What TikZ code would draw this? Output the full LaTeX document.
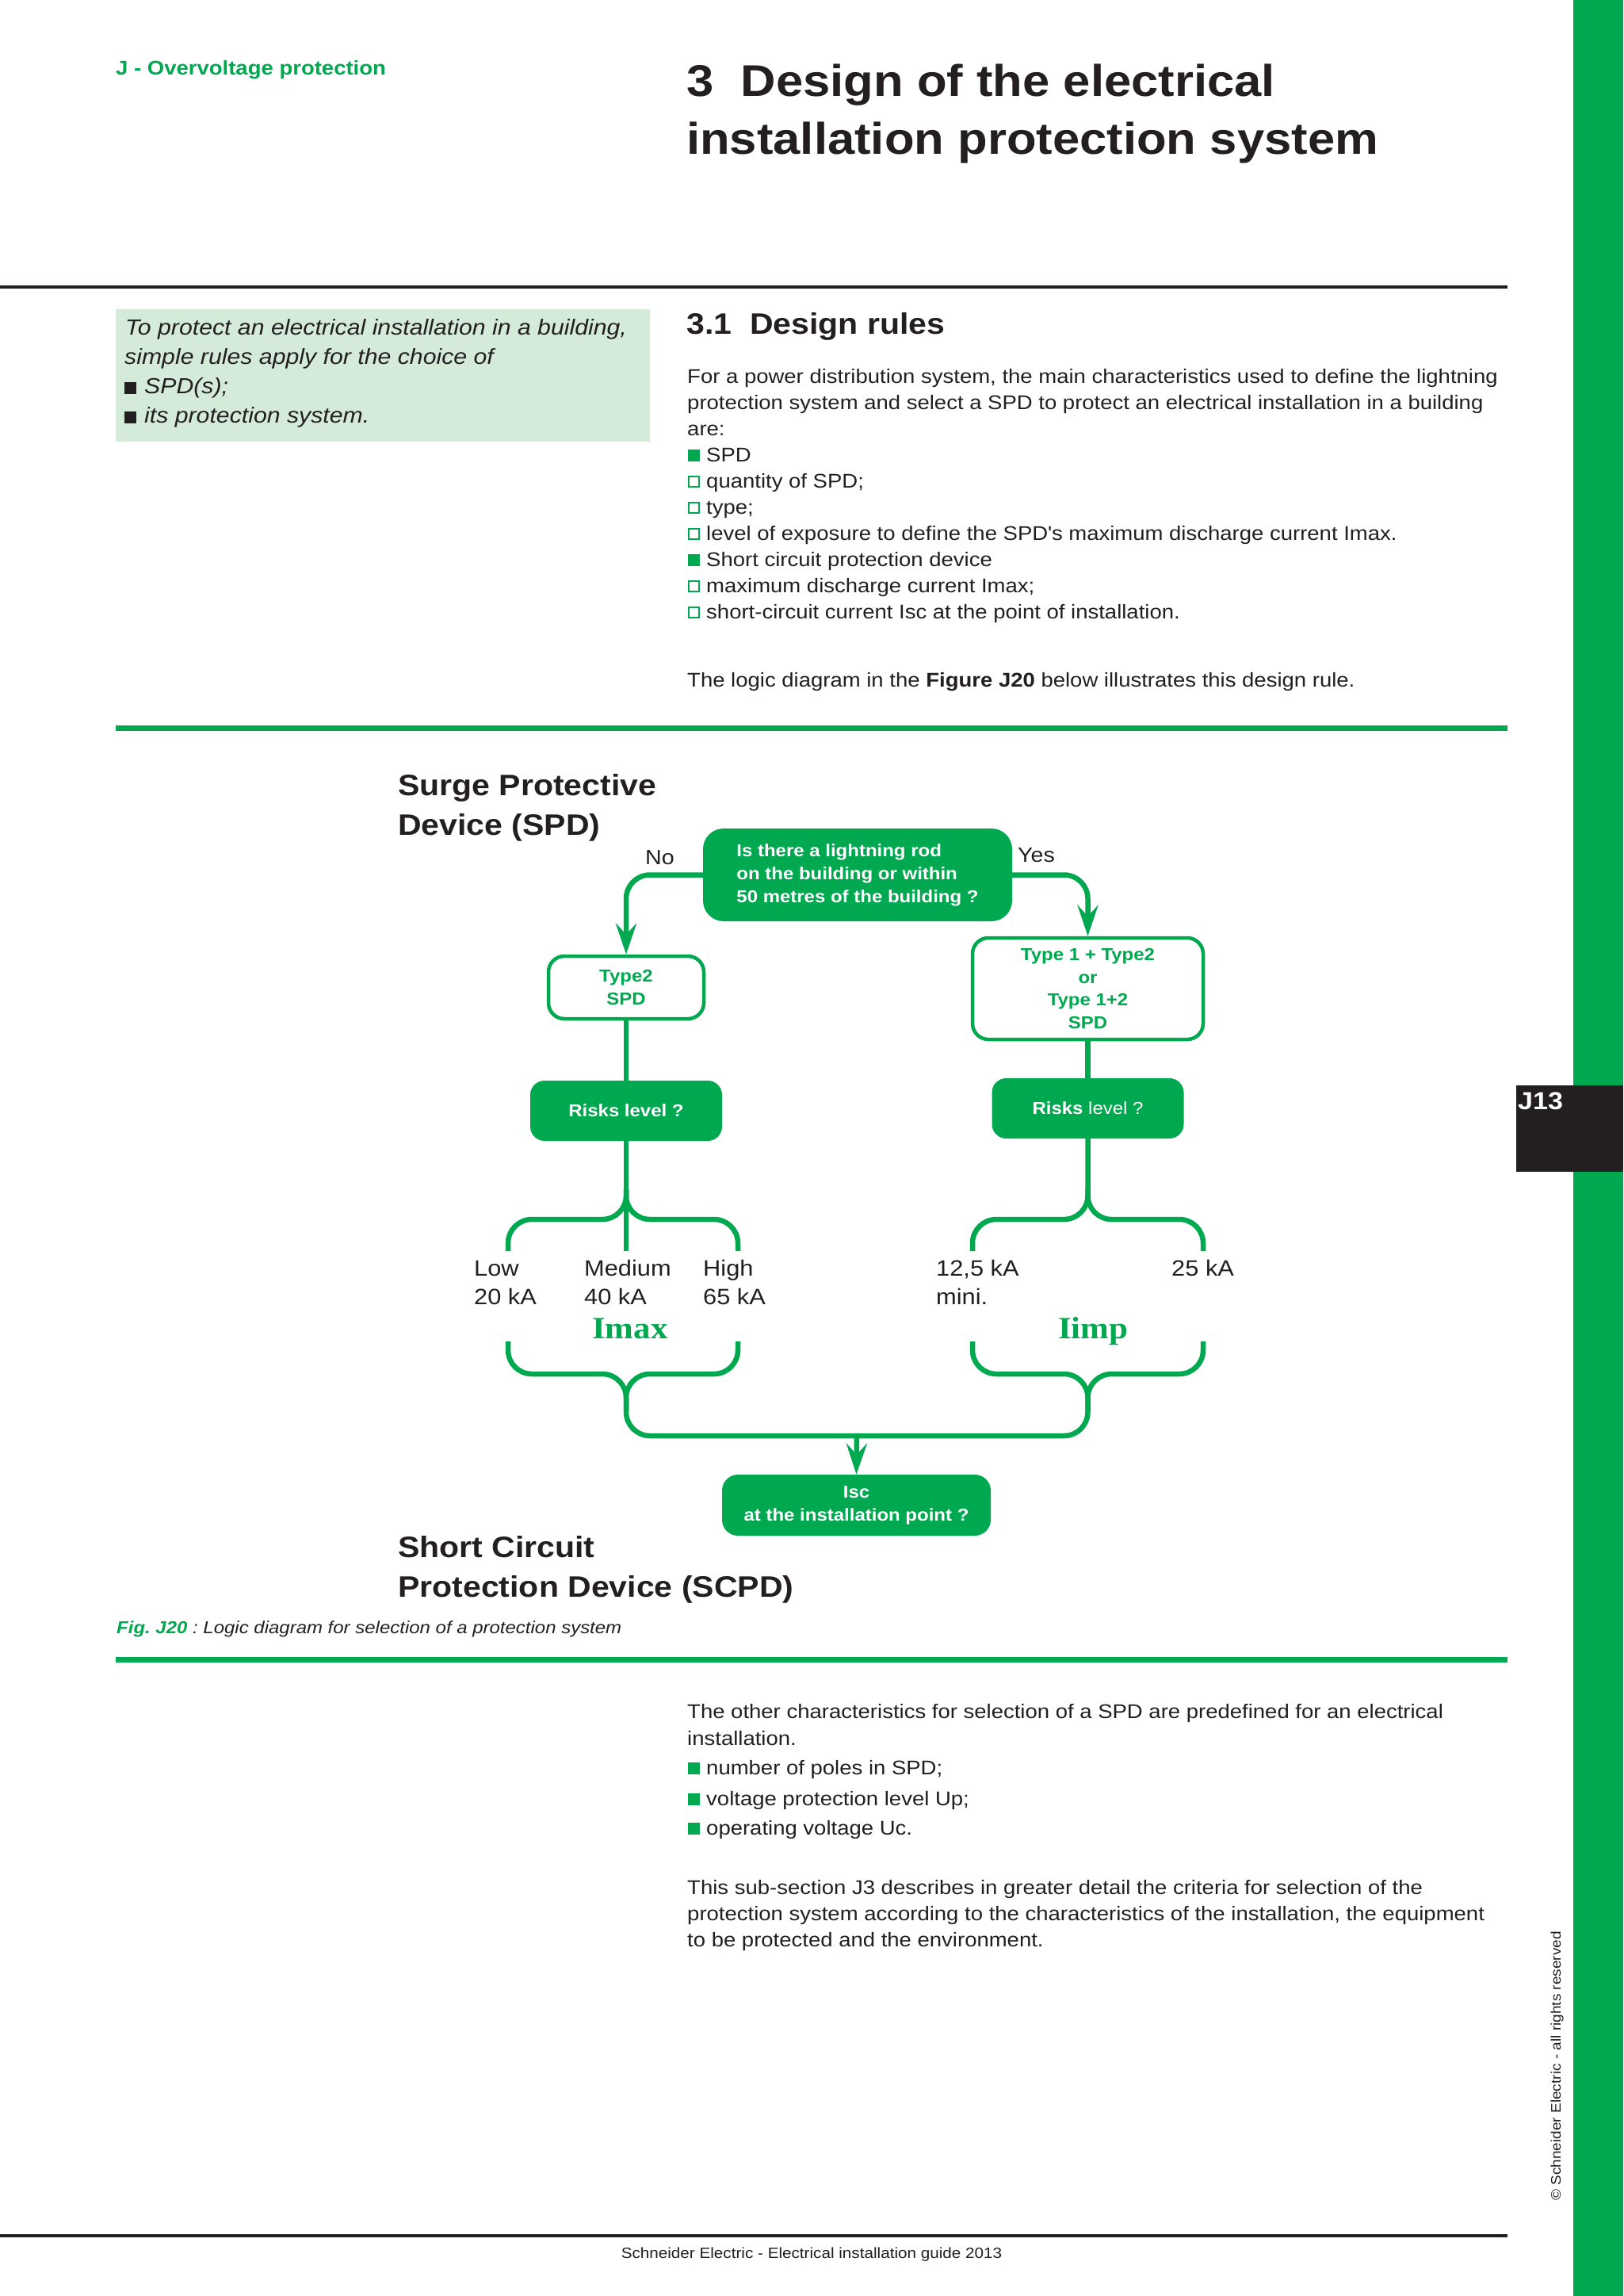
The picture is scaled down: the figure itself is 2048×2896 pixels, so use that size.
\documentclass[tikz,border=0pt]{standalone}
\usepackage{fontspec}
\setmainfont{Liberation Sans}[FakeStretch=1.1]
\newfontfamily\imfont{Liberation Serif}[FakeStretch=1.1]
\usetikzlibrary{arrows.meta}
\definecolor{sgreen}{RGB}{0,168,80}
\definecolor{ink}{RGB}{35,31,32}
\definecolor{pale}{RGB}{212,235,218}
\newcommand{\myfs}[2]{\fontsize{#1}{#2}\selectfont}
\frenchspacing
\begin{document}
\begin{tikzpicture}[x=1pt,y=-1pt,
  txt/.style={anchor=base west, inner sep=0pt, text=ink},
  body/.style={txt, font=\myfs{25}{33}},
  big/.style={txt, font=\bfseries\myfs{37.3}{50}},
  lbl/.style={txt, font=\myfs{28}{36}},
  fbox/.style={fill=sgreen, text=white, rounded corners=22pt, font=\bfseries\myfs{21.8}{29}, align=center, inner sep=0pt},
  obox/.style={draw=sgreen, line width=4.5pt, fill=white, text=sgreen, rounded corners=20pt, font=\bfseries\myfs{21.8}{28.5}, align=center, inner sep=0pt},
  conn/.style={draw=sgreen, line width=6.5pt, rounded corners=30pt},
  tip/.style={-{Stealth[length=39pt,width=26pt,inset=14pt]}},
  fsq/.style={fill=sgreen},
  hsq/.style={draw=sgreen, line width=2pt}
]
\useasboundingbox (0,0) rectangle (2048,2896);
\fill[white] (0,0) rectangle (2048,2896);
% right margin band
\fill[sgreen] (1985,0) rectangle (2048,2896);
\fill[ink] (1913,1369) rectangle (2048,1478);
\node[txt, text=white, font=\bfseries\myfs{31}{31}] (pg) at (1915,1399) {J13};
\node[txt, rotate=90, font=\myfs{17.3}{20}] (copy) at (1969,2776) {© Schneider Electric - all rights reserved};
% rules
\draw[ink, line width=3.5pt] (0,362) -- (1902,362);
\draw[sgreen, line width=7pt] (146,918) -- (1902,918);
\draw[sgreen, line width=7pt] (146,2093) -- (1902,2093);
\draw[ink, line width=3.5pt] (0,2820) -- (1902,2820);
% header
\node[txt, text=sgreen, font=\bfseries\myfs{25}{30}] (hdr) at (146,94) {J - Overvoltage protection};
\node[txt, font=\bfseries\myfs{56}{73}] (tl1) at (866,121) {3~~Design of the electrical};
\node[txt, font=\bfseries\myfs{56}{73}] (tl2) at (866,194) {installation protection system};
% sidebar
\fill[pale] (146,390) rectangle (820,557);
\node[txt, font=\itshape\myfs{27.5}{37}] (s1) at (158,422) {To protect an electrical installation in a building,};
\node[txt, font=\itshape\myfs{27.5}{37}] (s2) at (157,459) {simple rules apply for the choice of};
\fill[ink] (157,482) rectangle (172,497);
\node[txt, font=\itshape\myfs{27.5}{37}] (s3) at (182,496) {SPD(s);};
\fill[ink] (157,519) rectangle (172,534);
\node[txt, font=\itshape\myfs{27.5}{37}] (s4) at (182,533) {its protection system.};
% section 3.1
\node[big] (sec) at (866,421) {3.1~~Design rules};
\node[body] (b1) at (867,483) {For a power distribution system, the main characteristics used to define the lightning};
\node[body] (b2) at (867,516) {protection system and select a SPD to protect an electrical installation in a building};
\node[body] (b3) at (867,549) {are:};
\fill[fsq] (868,567) rectangle (883,582);
\node[body] (b4) at (891,582) {SPD};
\draw[hsq] (869,601) rectangle (882,614);
\node[body] (b5) at (891,615) {quantity of SPD;};
\draw[hsq] (869,634) rectangle (882,647);
\node[body] (b6) at (891,648) {type;};
\draw[hsq] (869,667) rectangle (882,680);
\node[body] (b7) at (891,681) {level of exposure to define the SPD\textquotesingle s maximum discharge current Imax.};
\fill[fsq] (868,699) rectangle (883,714);
\node[body] (b8) at (891,714) {Short circuit protection device};
\draw[hsq] (869,733) rectangle (882,746);
\node[body] (b9) at (891,747) {maximum discharge current Imax;};
\draw[hsq] (869,766) rectangle (882,779);
\node[body] (b10) at (891,780) {short-circuit current Isc at the point of installation.};
\node[body] (b11) at (867,866) {The logic diagram in the \textbf{Figure J20} below illustrates this design rule.};
% diagram titles
\node[big] (spd1) at (502,1003) {Surge Protective};
\node[big] (spd2) at (502,1053) {Device (SPD)};
\node[big] (sc1) at (502,1964) {Short Circuit};
\node[big] (sc2) at (502,2014) {Protection Device (SCPD)};
% diagram boxes
\node[fbox, align=left, minimum width=390pt, minimum height=117pt, rounded corners=26pt] (q) at (1082,1103.5) {Is there a lightning rod\\on the building or within\\50 metres of the building ?};
\node[obox, minimum width=196pt, minimum height=79pt] (t2) at (790,1245.5) {Type2\\SPD};
\node[obox, minimum width=291pt, minimum height=128pt] (t1) at (1372.5,1247) {Type 1 + Type2\\or\\Type 1+2\\SPD};
\node[fbox, minimum width=242pt, minimum height=76pt, rounded corners=18pt] (r1) at (790,1401) {Risks level ?};
\node[fbox, minimum width=242pt, minimum height=76pt, rounded corners=18pt, font=\myfs{21.8}{29}] (r2) at (1372.5,1398) {\textbf{Risks} level ?};
\node[fbox, minimum width=339pt, minimum height=77pt, rounded corners=20pt, font=\bfseries\myfs{21.8}{28.5}] (isc) at (1080.5,1898.5) {Isc\\at the installation point ?};
% labels
\node[txt, font=\myfs{26}{30}] (no) at (814,1090) {No};
\node[txt, font=\myfs{26}{30}] (yes) at (1284,1087) {Yes};
\node[lbl] (l1) at (598,1609) {Low};
\node[lbl] (l2) at (598,1645) {20 kA};
\node[lbl] (m1) at (737,1609) {Medium};
\node[lbl] (m2) at (737,1645) {40 kA};
\node[lbl] (h1) at (887,1609) {High};
\node[lbl] (h2) at (887,1645) {65 kA};
\node[lbl] (i1) at (1181,1609) {12,5 kA};
\node[lbl] (i2) at (1181,1645) {mini.};
\node[lbl] (i3) at (1478,1609) {25 kA};
\node[txt, text=sgreen, font=\imfont\bfseries\myfs{39}{40}] (imax) at (747,1688) {Imax};
\node[txt, text=sgreen, font=\imfont\bfseries\myfs{39}{40}] (iimp) at (1335,1688) {Iimp};
% coordinates
\coordinate (lst) at (790,1578);
\coordinate (ljn) at (790,1500);
\coordinate (lw) at (641,1578);
\coordinate (le) at (931,1578);
\coordinate (rst) at (1372.5,1500);
\coordinate (rw) at (1227,1578);
\coordinate (re) at (1518,1578);
\coordinate (mid) at (1081,1811);
% connectors
\draw[conn, tip] (q.west) -| (t2.north);
\draw[conn, tip] (q.east) -| (t1.north);
\draw[conn] (t2.south) -- (r1.north);
\draw[conn] (t1.south) -- (r2.north);
\draw[conn, rounded corners=0pt] (r1.south) -- (lst);
\draw[conn] (ljn) -- (790,1538) -- (641,1538) -- (lw);
\draw[conn] (ljn) -- (790,1538) -- (931,1538) -- (le);
\draw[conn] (r2.south) -- (1372.5,1538) -- (1227,1538) -- (rw);
\draw[conn] (rst) -- (1372.5,1538) -- (1518,1538) -- (re);
\draw[conn] (641,1692) -- (641,1733) -- (790,1733) -- (790,1811) -- (1372.5,1811) -- (1372.5,1733) -- (1518,1733) -- (1518,1692);
\draw[conn] (931,1692) -- (931,1733) -- (790,1733) -- (790,1780);
\draw[conn] (1227,1692) -- (1227,1733) -- (1372.5,1733) -- (1372.5,1780);
\draw[conn, tip] (mid) -- (isc.north);
% caption
\node[txt, font=\itshape\myfs{21.8}{26}] (cap) at (147,2060) {\textcolor{sgreen}{\bfseries Fig.\ J20} : Logic diagram for selection of a protection system};
% lower text
\node[body] (c1) at (867,2167) {The other characteristics for selection of a SPD are predefined for an electrical};
\node[body] (c2) at (867,2201) {installation.};
\fill[fsq] (868,2223) rectangle (883,2238);
\node[body] (c3) at (891,2238) {number of poles in SPD;};
\fill[fsq] (868,2262) rectangle (883,2277);
\node[body] (c4) at (891,2277) {voltage protection level Up;};
\fill[fsq] (868,2299) rectangle (883,2314);
\node[body] (c5) at (891,2314) {operating voltage Uc.};
\node[body] (c6) at (867,2389) {This sub-section J3 describes in greater detail the criteria for selection of the};
\node[body] (c7) at (867,2422) {protection system according to the characteristics of the installation, the equipment};
\node[body] (c8) at (867,2455) {to be protected and the environment.};
% footer
\node[inner sep=0pt, anchor=base, text=ink, font=\myfs{18.8}{22}] (foot) at (1024,2848) {Schneider Electric - Electrical installation guide 2013};
\end{tikzpicture}
\end{document}
